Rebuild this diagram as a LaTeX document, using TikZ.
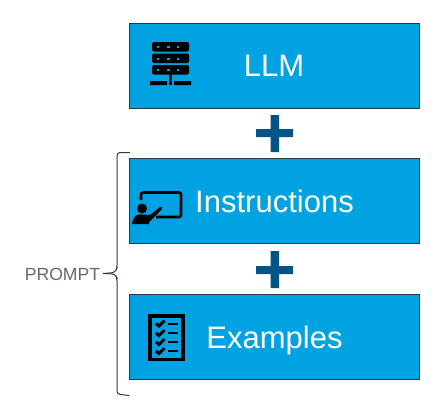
\documentclass[tikz,border=0pt]{standalone}
\usepackage{fontspec}
\setmainfont{Liberation Sans}
\definecolor{boxblue}{HTML}{00A2E2}
\definecolor{boxline}{HTML}{2B3A42}
\definecolor{plusblue}{HTML}{005488}
\definecolor{labelgrey}{HTML}{5F6B73}
\begin{document}
\begin{tikzpicture}[x=1pt,y=-1pt,
  blockbox/.style={draw=boxline,line width=1pt,fill=boxblue,minimum width=290pt,minimum height=85pt,inner sep=0pt},
  blocktext/.style={text=white,font=\fontsize{31}{34}\selectfont,anchor=base,inner sep=0pt},
  plusbar/.style={fill=plusblue},
  bracket/.style={draw=boxline,line width=1pt,rounded corners=3pt},
  ink/.style={fill=black},
  inkline/.style={draw=black,line cap=butt}]
\useasboundingbox (0,0) rectangle (435,418);
\node[blockbox] (llm) at (274,65.5) {};
\node[blockbox] (instr) at (274,201) {};
\node[blockbox] (ex) at (274,336.5) {};
\node[blocktext] (llmt) at (274,76.5) {LLM};
\node[blocktext] (instrt) at (274.5,212.5) {Instructions};
\node[blocktext] (ext) at (274.5,348.5) {Examples};
% plus signs
\fill[plusbar] (256,129) rectangle (293,137) (270.5,115) rectangle (279,152);
\fill[plusbar] (256,266) rectangle (293,274) (270.5,251) rectangle (279,288);
% brace
\node[text=labelgrey,font=\fontsize{17.6}{20}\selectfont,inner sep=0pt,anchor=base] (prompt) at (62.5,280) {PROMPT};
\draw[bracket] (130,152.5) -- (117,152.5) -- (117,268) -- (115,272.5) -- (103,273.5);
\draw[bracket] (103,273.5) -- (115,274) -- (117,278) -- (117,394) -- (129,395.5);
% server icon
\foreach \a in {42,53.5,65}{
  \fill[ink,rounded corners=2pt] (152,\a) rectangle (189,\a+9.5);
  \foreach \d in {158,168,169,178}{\fill[boxblue] (\d-1,\a+4) rectangle (\d+1,\a+6);}
}
\fill[ink] (169,74) rectangle (172,85);
\fill[ink] (150,81) rectangle (167,85) (174,81) rectangle (191,85);
% instructions icon
\draw[black,line width=2.6pt,rounded corners=2pt] (141,200) -- (141,192.5) -- (181,192.5) -- (181,217) -- (156,217);
\fill[ink] (142,208.5) circle (5);
\fill[ink] (132,224) .. controls (133,216) and (137,213.5) .. (142,214.5) -- (150,215) -- (160,207) .. controls (162,206) and (163,208) .. (161.5,209.5) -- (149,222) -- (149,224) -- cycle;
% checklist icon
\draw[black,line width=3.8pt] (150,316) rectangle (183,359.5);
\foreach \a/\w in {323.5/2,333/2.4,342/2,351/1.8}{
  \draw[black,line width=3pt] (156,\a) -- (159,\a+2.5) -- (164.5,\a-3);
  \draw[inkline,line width=\w pt] (168,\a) -- (178,\a);
}
\end{tikzpicture}
\end{document}
